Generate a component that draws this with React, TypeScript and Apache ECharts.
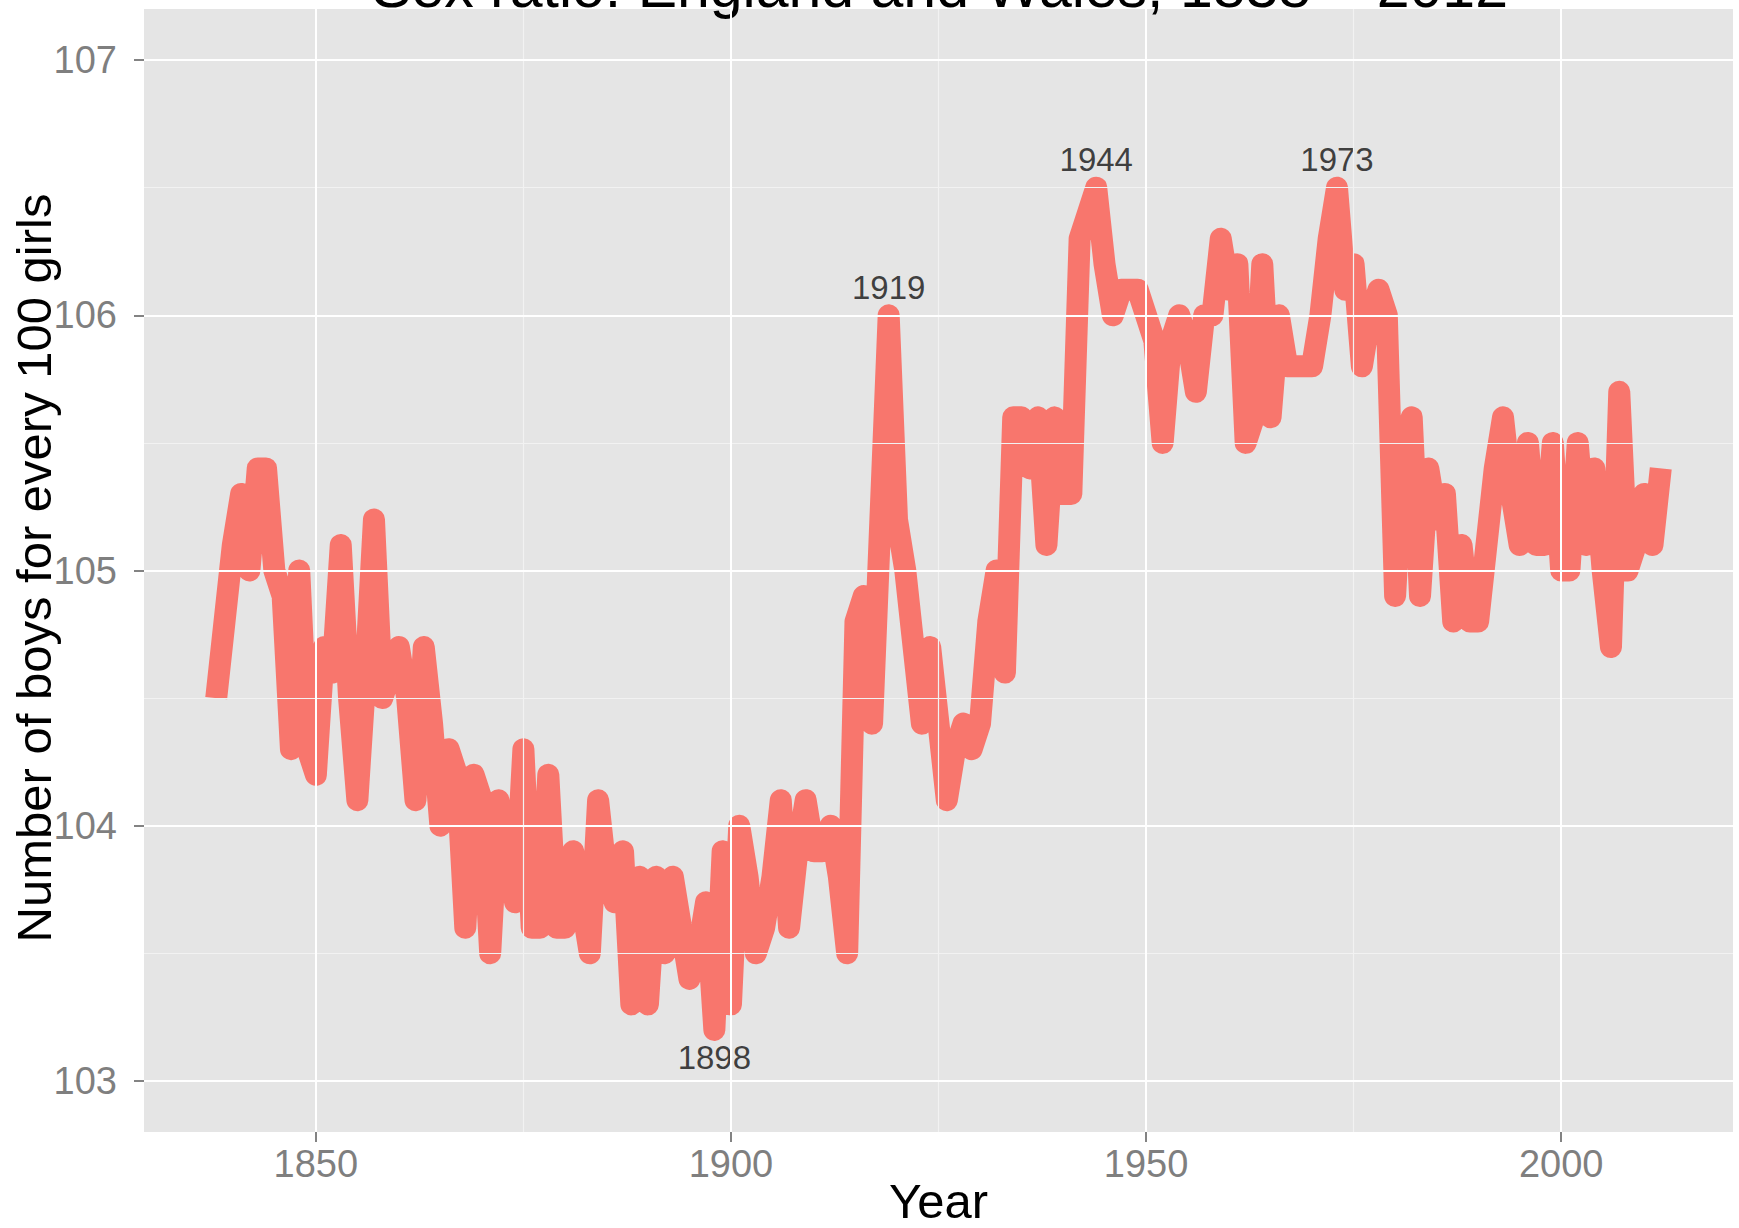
import React, { useEffect, useRef } from "react";
import * as echarts from "echarts";

// Sex ratio at birth, England and Wales: boys per 100 girls
const FIRST_YEAR = 1838;
const ratio1838_1849 = [104.5, 104.8, 105.1, 105.3, 105.0, 105.4, 105.4, 105.0, 104.9, 104.3, 105.0, 104.3];
const ratio1850s = [104.2, 104.7, 104.6, 105.1, 104.5, 104.1, 104.6, 105.2, 104.5, 104.6];
const ratio1860s = [104.7, 104.5, 104.1, 104.7, 104.4, 104.0, 104.3, 104.2, 103.6, 104.2];
const ratio1870s = [104.1, 103.5, 104.1, 103.9, 103.7, 104.3, 103.6, 103.6, 104.2, 103.6];
const ratio1880s = [103.6, 103.9, 103.7, 103.5, 104.1, 103.8, 103.7, 103.9, 103.3, 103.8];
const ratio1890s = [103.3, 103.8, 103.5, 103.8, 103.6, 103.4, 103.5, 103.7, 103.2, 103.9];
const ratio1900s = [103.3, 104.0, 103.8, 103.5, 103.6, 103.8, 104.1, 103.6, 103.9, 104.1];
const ratio1910s = [103.9, 103.9, 104.0, 103.8, 103.5, 104.8, 104.9, 104.4, 105.2, 106.0];
const ratio1920s = [105.2, 105.0, 104.7, 104.4, 104.7, 104.4, 104.1, 104.3, 104.4, 104.3];
const ratio1930s = [104.4, 104.8, 105.0, 104.6, 105.6, 105.6, 105.4, 105.6, 105.1, 105.6];
const ratio1940s = [105.3, 105.3, 106.3, 106.4, 106.5, 106.2, 106.0, 106.1, 106.1, 106.1];
const ratio1950s = [106.0, 105.9, 105.5, 105.9, 106.0, 105.9, 105.7, 106.0, 106.0, 106.3];
const ratio1960s = [106.1, 106.2, 105.5, 105.6, 106.2, 105.6, 106.0, 105.8, 105.8, 105.8];
const ratio1970s = [105.8, 106.0, 106.3, 106.5, 106.1, 106.2, 105.8, 106.0, 106.1, 106.0];
const ratio1980s = [104.9, 105.5, 105.6, 104.9, 105.4, 105.2, 105.3, 104.8, 105.1, 104.8];
const ratio1990s = [104.8, 105.1, 105.4, 105.6, 105.3, 105.1, 105.5, 105.1, 105.1, 105.5];
const ratio2000s = [105.0, 105.0, 105.5, 105.1, 105.4, 105.0, 104.7, 105.7, 105.0, 105.1];
const ratio2010s = [105.3, 105.1, 105.4];

// Annotated extreme years
const labelYears = [1898, 1919, 1944, 1973];
const labelSides = [-1, 1, 1, 1]; // below / above the line

// Axis breaks
const xMajorTicks = [1850, 1900, 1950, 2000];
const xMinorTicks = [1875, 1925, 1975];
const yMajorTicks = [103, 104, 105, 106, 107];
const yMinorTicks = [103.5, 104.5, 105.5, 106.5];

const TITLE = "Sex ratio: England and Wales, 1838 \u2013 2012";
const X_TITLE = "Year";
const Y_TITLE = "Number of boys for every 100 girls";

const ratios: number[] = [
  ...ratio1838_1849, ...ratio1850s, ...ratio1860s, ...ratio1870s, ...ratio1880s,
  ...ratio1890s, ...ratio1900s, ...ratio1910s, ...ratio1920s, ...ratio1930s,
  ...ratio1940s, ...ratio1950s, ...ratio1960s, ...ratio1970s, ...ratio1980s,
  ...ratio1990s, ...ratio2000s, ...ratio2010s,
];
const years: number[] = ratios.map((_, i) => FIRST_YEAR + i);

const FONT = "'Liberation Sans', Arial, Helvetica, sans-serif";

export default function App() {
  const ref = useRef<HTMLDivElement>(null);

  useEffect(() => {
    if (!ref.current) return;
    const chart = echarts.init(ref.current, null, { renderer: "svg" });

    const lineData = years.map((y, i) => [y, ratios[i]]);
    const labelData = labelYears.map((y, i) => {
      const v = ratios[years.indexOf(y)];
      return [y, v + labelSides[i] * 0.11];
    });

    const gridLines = [
      ...yMinorTicks.map((v) => ({ yAxis: v, lineStyle: { color: "#F2F2F2", width: 1.2, type: "solid" } })),
      ...xMinorTicks.map((v) => ({ xAxis: v, lineStyle: { color: "#F2F2F2", width: 1.2, type: "solid" } })),
      ...yMajorTicks.map((v) => ({ yAxis: v, lineStyle: { color: "#FFFFFF", width: 2, type: "solid" } })),
      ...xMajorTicks.map((v) => ({ xAxis: v, lineStyle: { color: "#FFFFFF", width: 2, type: "solid" } })),
    ];

    chart.setOption({
      animation: false,
      backgroundColor: "#FFFFFF",
      textStyle: { fontFamily: FONT },
      grid: {
        left: 144,
        right: 6,
        top: 9,
        bottom: 96,
        show: true,
        backgroundColor: "#E5E5E5",
        borderWidth: 0,
      },
      xAxis: {
        type: "value",
        min: 1829.3,
        max: 2020.7,
        axisLine: { show: false },
        splitLine: { show: false },
        axisTick: {
          show: true,
          customValues: xMajorTicks,
          length: 10,
          lineStyle: { color: "#5A5A5A", width: 1.5 },
        },
        axisLabel: {
          customValues: xMajorTicks,
          formatter: (v: number) => String(Math.round(v)),
          margin: 13,
          fontSize: 38,
          color: "#7F7F7F",
          fontFamily: FONT,
        },
      },
      yAxis: {
        type: "value",
        min: 102.8,
        max: 107.2,
        axisLine: { show: false },
        splitLine: { show: false },
        axisTick: {
          show: true,
          customValues: yMajorTicks,
          length: 10,
          lineStyle: { color: "#5A5A5A", width: 1.5 },
        },
        axisLabel: {
          customValues: yMajorTicks,
          formatter: (v: number) => String(Math.round(v)),
          margin: 27,
          fontSize: 38,
          color: "#7F7F7F",
          fontFamily: FONT,
        },
      },
      graphic: [
        {
          type: "text",
          x: 940,
          y: -13,
          silent: true,
          style: {
            text: TITLE,
            align: "center",
            verticalAlign: "middle",
            fontSize: 59,
            fontFamily: FONT,
            fill: "#000000",
          },
        },
        {
          type: "text",
          x: 938.5,
          y: 1201,
          silent: true,
          style: {
            text: X_TITLE,
            align: "center",
            verticalAlign: "middle",
            fontSize: 49,
            fontFamily: FONT,
            fill: "#000000",
          },
        },
        {
          type: "text",
          x: 34,
          y: 568,
          rotation: Math.PI / 2,
          silent: true,
          style: {
            text: Y_TITLE,
            align: "center",
            verticalAlign: "middle",
            fontSize: 49,
            fontFamily: FONT,
            fill: "#000000",
          },
        },
      ],
      series: [
        {
          name: "grid",
          type: "line",
          z: 1,
          data: lineData,
          showSymbol: false,
          silent: true,
          lineStyle: { opacity: 0 },
          markLine: {
            silent: true,
            symbol: "none",
            label: { show: false },
            data: gridLines,
          },
        },
        {
          name: "Sex ratio",
          type: "line",
          z: 3,
          data: lineData,
          showSymbol: false,
          smooth: false,
          lineStyle: { color: "#F8766D", width: 22, cap: "butt", join: "round" },
        },
        {
          name: "labels",
          type: "scatter",
          z: 4,
          data: labelData,
          symbolSize: 0.1,
          itemStyle: { color: "transparent" },
          label: {
            show: true,
            position: "inside",
            formatter: (p: any) => String(p.value[0]),
            fontSize: 33,
            color: "#111111",
            fontFamily: FONT,
          },
        },
      ],
    });

    return () => chart.dispose();
  }, []);

  return (
    <div
      ref={ref}
      style={{ position: "fixed", left: 0, top: 0, width: 1739, height: 1228 }}
    />
  );
}
